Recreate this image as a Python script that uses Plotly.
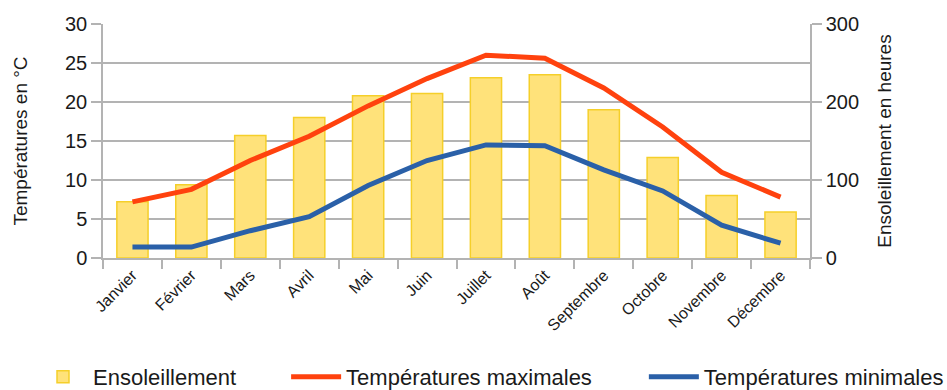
import plotly.graph_objects as go

# Monthly climate data
mois = ["Janvier", "Février", "Mars", "Avril", "Mai", "Juin", "Juillet",
        "Août", "Septembre", "Octobre", "Novembre", "Décembre"]
ensoleillement = [72, 94, 157, 180, 208, 211, 231, 235, 190, 129, 80, 59]
temp_max = [7.2, 8.8, 12.5, 15.6, 19.5, 23.0, 26.0, 25.6, 21.8, 16.8, 11.0, 7.8]
temp_min = [1.4, 1.4, 3.5, 5.3, 9.3, 12.5, 14.5, 14.4, 11.3, 8.6, 4.2, 1.9]

FONT = "Liberation Sans, Arial, sans-serif"
GRID = "#b3b3b3"
TXT = "#1a1a1a"

fig = go.Figure()

fig.add_trace(go.Bar(
    x=mois, y=ensoleillement, name="Ensoleillement",
    marker=dict(color="#ffe27a", line=dict(color="#f5cf2a", width=1.5)),
    yaxis="y", legend="legend",
))
fig.add_trace(go.Scatter(
    x=mois, y=temp_max, name="Températures maximales", mode="lines",
    line=dict(color="#ff420e", width=5), yaxis="y2", legend="legend2",
))
fig.add_trace(go.Scatter(
    x=mois, y=temp_min, name="Températures minimales", mode="lines",
    line=dict(color="#2a60a8", width=5), yaxis="y2", legend="legend3",
))

legend_common = dict(
    orientation="h", yanchor="middle", y=-0.508, xanchor="left",
    font=dict(family=FONT, size=22, color=TXT), bgcolor="rgba(0,0,0,0)",
    itemwidth=50, visible=True,
)

fig.update_layout(
    width=947, height=390,
    margin=dict(l=103, r=137, t=24, b=132, autoexpand=False),
    paper_bgcolor="white", plot_bgcolor="white",
    font=dict(family=FONT, color=TXT),
    showlegend=True,
    bargap=0.47,
    xaxis=dict(
        type="category", showline=True, linecolor=GRID, linewidth=1.5,
        tickson="boundaries", ticks="outside", ticklen=9, tickcolor=GRID,
        tickwidth=1.5, tickangle=-45, tickfont=dict(size=16, color=TXT),
        showgrid=False, automargin=False,
    ),
    yaxis=dict(
        side="right", range=[0, 300], tickvals=[0, 100, 200, 300],
        showline=True, linecolor=GRID, linewidth=1.5,
        ticks="outside", ticklen=10, tickcolor=GRID, tickwidth=1.5,
        showgrid=True, gridcolor=GRID, gridwidth=1.5,
        minor=dict(dtick=50, showgrid=True, gridcolor=GRID, gridwidth=1.5),
        zeroline=False, tickfont=dict(size=20, color=TXT), automargin=False,
        title=dict(text="Ensoleillement en heures",
                   font=dict(size=19, color=TXT), standoff=20),
    ),
    yaxis2=dict(
        side="left", overlaying="y", range=[0, 30], dtick=5,
        showline=True, linecolor=GRID, linewidth=1.5,
        ticks="outside", ticklen=10, tickcolor=GRID, tickwidth=1.5,
        showgrid=False, zeroline=False, tickfont=dict(size=20, color=TXT),
        automargin=False,
        title=dict(text="Températures en °C",
                   font=dict(size=19, color=TXT), standoff=32),
    ),
    legend=dict(legend_common, x=-0.099),
    legend2=dict(legend_common, x=0.259),
    legend3=dict(legend_common, x=0.765),
)

fig.write_html("out.html")
